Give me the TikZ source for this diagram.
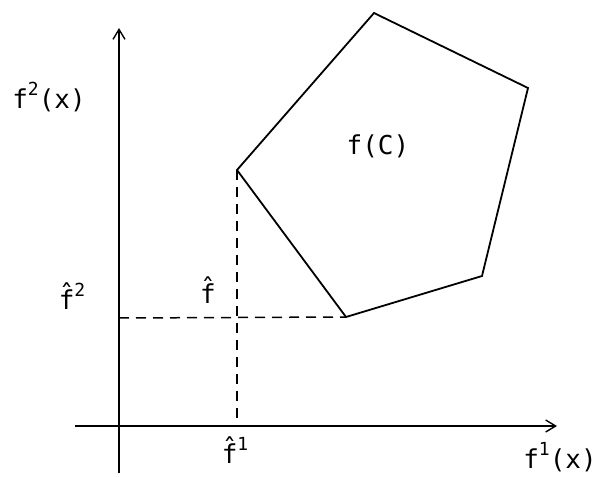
\documentclass[tikz,border=0pt]{standalone}
\usepackage{fontspec}
\setmainfont{DejaVu Sans Mono}
\usetikzlibrary{arrows.meta}
\newcommand{\supr}[1]{\raisebox{0.5em}{\fontsize{18}{18}\selectfont #1}}
\tikzset{
  axis/.style={line width=1.6pt,-{Straight Barb[length=10pt,width=12pt,line width=1.4pt]}},
  edge/.style={line width=1.8pt,line join=miter},
  guide/.style={line width=1.5pt,dash pattern=on 10pt off 7pt},
  lbl/.style={inner sep=0pt,font=\fontsize{26}{30}\selectfont}
}
\begin{document}
\begin{tikzpicture}[x=1pt,y=-1pt]
\useasboundingbox (0,0) rectangle (598,477);
% axes
\coordinate (ybot) at (119,473);
\coordinate (ytop) at (119,28);
\coordinate (xleft) at (75,426);
\coordinate (xright) at (557,426);
\draw[axis] (ybot) -- (ytop);
\draw[axis] (xleft) -- (xright);
% pentagon
\coordinate (p1) at (237,170);
\coordinate (p2) at (374,13);
\coordinate (p3) at (528,88);
\coordinate (p4) at (482,276);
\coordinate (p5) at (346,317);
\draw[edge] (p1) -- (p2) -- (p3) -- (p4) -- (p5) -- cycle;
% guides
\coordinate (g1) at (237,426);
\coordinate (g2) at (119,318);
\draw[guide] (p1) -- (g1);
\draw[guide] (g2) -- (p5);
% labels
\node[lbl] (ly) at (49,97) {f\supr{2}(x)};
\node[lbl] (lfc) at (378,146) {f(C)};
\node[lbl] (lf2) at (72,296) {\^{f}\supr{2}};
\node[lbl] (lf) at (208,290) {\^{f}};
\node[lbl] (lf1) at (235,450) {\^{f}\supr{1}};
\node[lbl] (lx) at (560,457) {f\supr{1}(x)};
\end{tikzpicture}
\end{document}
